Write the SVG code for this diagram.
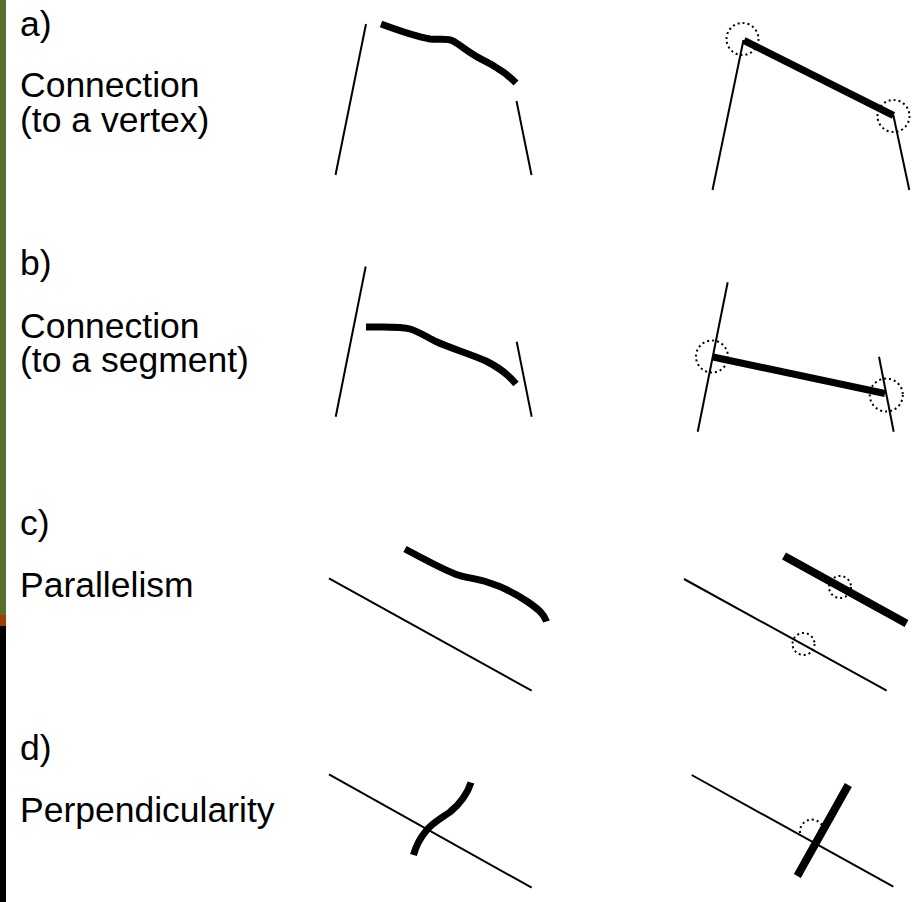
<svg xmlns="http://www.w3.org/2000/svg" width="917" height="902" viewBox="0 0 917 902">
<style>
text{font-family:"Liberation Sans",Arial,sans-serif;font-size:35.5px;fill:#000}
.thin{fill:none;stroke:#000;stroke-width:2;stroke-linecap:butt}
.thick{fill:none;stroke:#000;stroke-width:7;stroke-linecap:butt;stroke-linejoin:round}
.dot{fill:none;stroke:#000;stroke-width:2;stroke-dasharray:2 3}
</style>
<rect width="917" height="902" fill="#fff"/>
<g id="sidebar">
<rect x="0" y="0" width="6" height="615" fill="#5a6e2b"/>
<rect x="0" y="615" width="6" height="11" fill="#a23c00"/>
<rect x="0" y="626" width="6" height="276" fill="#000"/>
</g>
<g id="labels">
<text x="20" y="36">a)</text>
<text x="20" y="97">Connection</text>
<text x="20" y="132">(to a vertex)</text>
<text x="20" y="275">b)</text>
<text x="20" y="338">Connection</text>
<text x="20" y="372">(to a segment)</text>
<text x="20" y="535">c)</text>
<text x="20" y="597">Parallelism</text>
<text x="20" y="760">d)</text>
<text x="20" y="822">Perpendicularity</text>
</g>
<g id="a-before">
<line class="thin" x1="366" y1="24" x2="335.5" y2="175"/>
<path class="thick" d="M381,24 C400,31 418,37 430,39 C440,40 448,38 453,41 C460,45 466,50 474,55 C482,60 490,63 497,68 C504,72 511,78 516,83"/>
<line class="thin" x1="516.5" y1="101" x2="531.5" y2="175"/>
</g>
<g id="a-after">
<line class="thin" x1="743.5" y1="40" x2="712.5" y2="190"/>
<line class="thick" x1="744" y1="40.5" x2="893.5" y2="115.5"/>
<line class="thin" x1="893.3" y1="115" x2="909.3" y2="190"/>
<circle class="dot" cx="742.5" cy="39" r="16"/>
<circle class="dot" cx="893.5" cy="116" r="16"/>
</g>
<g id="b-before">
<line class="thin" x1="365.7" y1="266.5" x2="335.7" y2="416.7"/>
<path class="thick" d="M366,327 C385,327 400,326 410,329 C420,332 428,338 437,342 C450,348 468,353 486,361 C500,368 508,374 516,384"/>
<line class="thin" x1="516.7" y1="341.7" x2="531.7" y2="416.7"/>
</g>
<g id="b-after">
<line class="thin" x1="727.7" y1="282.3" x2="697.7" y2="431.7"/>
<line class="thick" x1="713" y1="357" x2="885" y2="393.5"/>
<line class="thin" x1="879" y1="356.7" x2="893.7" y2="431.7"/>
<circle class="dot" cx="712" cy="356.5" r="16"/>
<circle class="dot" cx="886.3" cy="395" r="16.5"/>
</g>
<g id="c-before">
<line class="thin" x1="329" y1="578.3" x2="531.7" y2="690.7"/>
<path class="thick" d="M405,549 C420,557 440,568 455,574 C465,578 475,578 487,582 C500,586 515,593 528,602 C538,609 544,614 546.5,621.5"/>
</g>
<g id="c-after">
<line class="thin" x1="684" y1="579" x2="886.7" y2="690.7"/>
<line class="thick" x1="784" y1="556" x2="906.5" y2="623.5" style="stroke-width:8"/>
<circle class="dot" cx="840" cy="587" r="11"/>
<circle class="dot" cx="803.5" cy="644" r="11"/>
</g>
<g id="d-before">
<line class="thin" x1="329" y1="774.3" x2="531.7" y2="887.7"/>
<path class="thick" d="M471,782.5 C467,795 461,803 450,812 C440,819 432,823 426,831 C420,838 416,846 413.5,855"/>
</g>
<g id="d-after">
<line class="thin" x1="691.7" y1="775" x2="893.3" y2="886.7"/>
<line class="thick" x1="848.3" y1="785" x2="797.3" y2="876" style="stroke-width:8"/>
<path class="dot" d="M800,833 A12,12 0 0 1 823,827"/>
</g>
</svg>
